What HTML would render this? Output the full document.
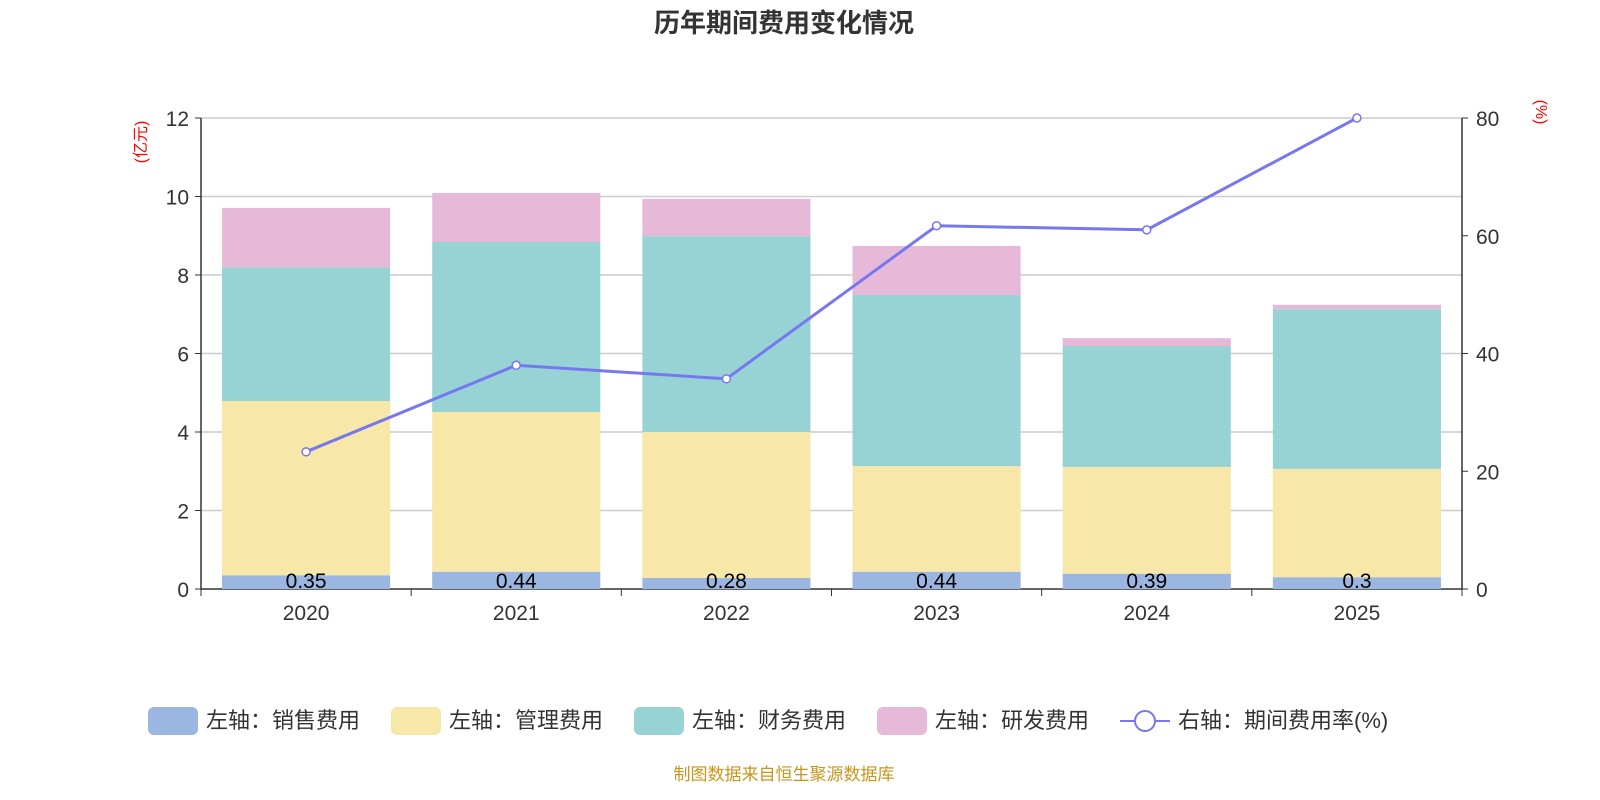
<!DOCTYPE html>
<html><head><meta charset="utf-8"><style>
body{margin:0;background:#fff;}
svg{display:block;font-family:"Liberation Sans","Noto Sans CJK SC",sans-serif;}
</style></head><body>
<svg id="c" width="1600" height="800"></svg>
<script>
const categories=["2020","2021","2022","2023","2024","2025"];
const sales=[0.35,0.44,0.28,0.44,0.39,0.3];
const mgmt=[4.44,4.07,3.72,2.69,2.72,2.76];
const finance=[3.41,4.33,4.99,4.36,3.08,4.07];
const rnd=[1.51,1.25,0.95,1.25,0.20,0.11];
const rate=[23.3,38.0,35.7,61.7,61.0,80.0];
const leftTicks=[0,2,4,6,8,10,12];
const rightTicks=[0,20,40,60,80];

const NS="http://www.w3.org/2000/svg";
const svg=document.getElementById('c');
function mk(t,a,p){const e=document.createElementNS(NS,t);for(const k in a)e.setAttribute(k,a[k]);(p||svg).appendChild(e);return e;}
const X0=201,X1=1462,Y0=589,Y1=118;
const yL=v=>Y0-(v/12)*(Y0-Y1);
const yR=v=>Y0-(v/80)*(Y0-Y1);
const bw=(X1-X0)/categories.length;
const xc=i=>X0+bw*(i+0.5);

let t=mk('text',{x:784,y:32,'text-anchor':'middle','font-size':26,'font-weight':'bold',fill:'#333'});t.textContent='历年期间费用变化情况';


leftTicks.forEach(v=>{
 const g=mk('line',{x1:X0,x2:X1,y1:yL(v),y2:yL(v),stroke:v===0?'#333':'#ccc','stroke-width':v===0?1.5:1.5});
 
 mk('line',{x1:X0-6,x2:X0,y1:yL(v),y2:yL(v),stroke:'#333'});
 const l=mk('text',{x:X0-12,y:yL(v)+8,'text-anchor':'end','font-size':21,fill:'#333'});l.textContent=v;
 
});
rightTicks.forEach(v=>{
 mk('line',{x1:X1,x2:X1+6,y1:yR(v),y2:yR(v),stroke:'#333'});
 const l=mk('text',{x:X1+14,y:yR(v)+8,'font-size':21,fill:'#333'});l.textContent=v;
 
});
mk('line',{x1:X0,x2:X0,y1:Y1,y2:Y0+1,stroke:'#333','stroke-width':1.5});
mk('line',{x1:X1,x2:X1,y1:Y1,y2:Y0+1,stroke:'#333','stroke-width':1.5});
for(let i=0;i<=categories.length;i++)mk('line',{x1:X0+bw*i,x2:X0+bw*i,y1:Y0,y2:Y0+7,stroke:'#333'});
let u=mk('text',{x:0,y:0,'font-size':16,fill:'red','text-anchor':'middle',transform:'translate(146,142) rotate(-90)'});u.textContent='(亿元)';

u=mk('text',{x:0,y:0,'font-size':16,fill:'red','text-anchor':'middle',transform:'translate(1536,112) rotate(90)'});u.textContent='(%)';


const series=[[sales,'#9bb6e0','sales'],[mgmt,'#f7e7a8','management'],[finance,'#97d3d4','finance'],[rnd,'#e7b9d8','rnd']];
categories.forEach((c,i)=>{
 let base=0;
 series.forEach(([arr,col,nm])=>{
  const r=mk('rect',{x:xc(i)-bw*0.4,width:bw*0.8,y:yL(base+arr[i]),height:yL(base)-yL(base+arr[i]),fill:col});
  
  base+=arr[i];
 });
 const l=mk('text',{x:xc(i),y:Y0-1,'text-anchor':'middle','font-size':21,fill:'#000'});l.textContent=sales[i];
 
 const cl=mk('text',{x:xc(i),y:620,'text-anchor':'middle','font-size':21,fill:'#333'});cl.textContent=c;
 
});
const pl=mk('polyline',{points:rate.map((v,i)=>xc(i)+','+yR(v)).join(' '),fill:'none',stroke:'#7777f0','stroke-width':3});

rate.forEach((v,i)=>{const p=mk('circle',{cx:xc(i),cy:yR(v),r:4,fill:'#fff',stroke:'#7777f0','stroke-width':1.5});
 });

const leg=[['#9bb6e0','左轴：销售费用',148],['#f7e7a8','左轴：管理费用',391],['#97d3d4','左轴：财务费用',634],['#e7b9d8','左轴：研发费用',877]];
leg.forEach(([col,txt,x])=>{
 const g=mk('g',{});
 mk('rect',{x:x,y:707,width:50,height:28,rx:6,fill:col},g);
 const tt=mk('text',{x:x+58,y:728,'font-size':22,fill:'#333'},g);tt.textContent=txt;
});
const g=mk('g',{});
mk('line',{x1:1120,x2:1170,y1:721,y2:721,stroke:'#7777f0','stroke-width':2},g);
mk('circle',{cx:1145,cy:721,r:10,fill:'#fff',stroke:'#7777f0','stroke-width':2},g);
const tt=mk('text',{x:1178,y:728,'font-size':22,fill:'#333'},g);tt.textContent='右轴：期间费用率(%)';
const f=mk('text',{x:784,y:780,'text-anchor':'middle','font-size':17,fill:'#c8961e'});f.textContent='制图数据来自恒生聚源数据库';

</script>
</body></html>
